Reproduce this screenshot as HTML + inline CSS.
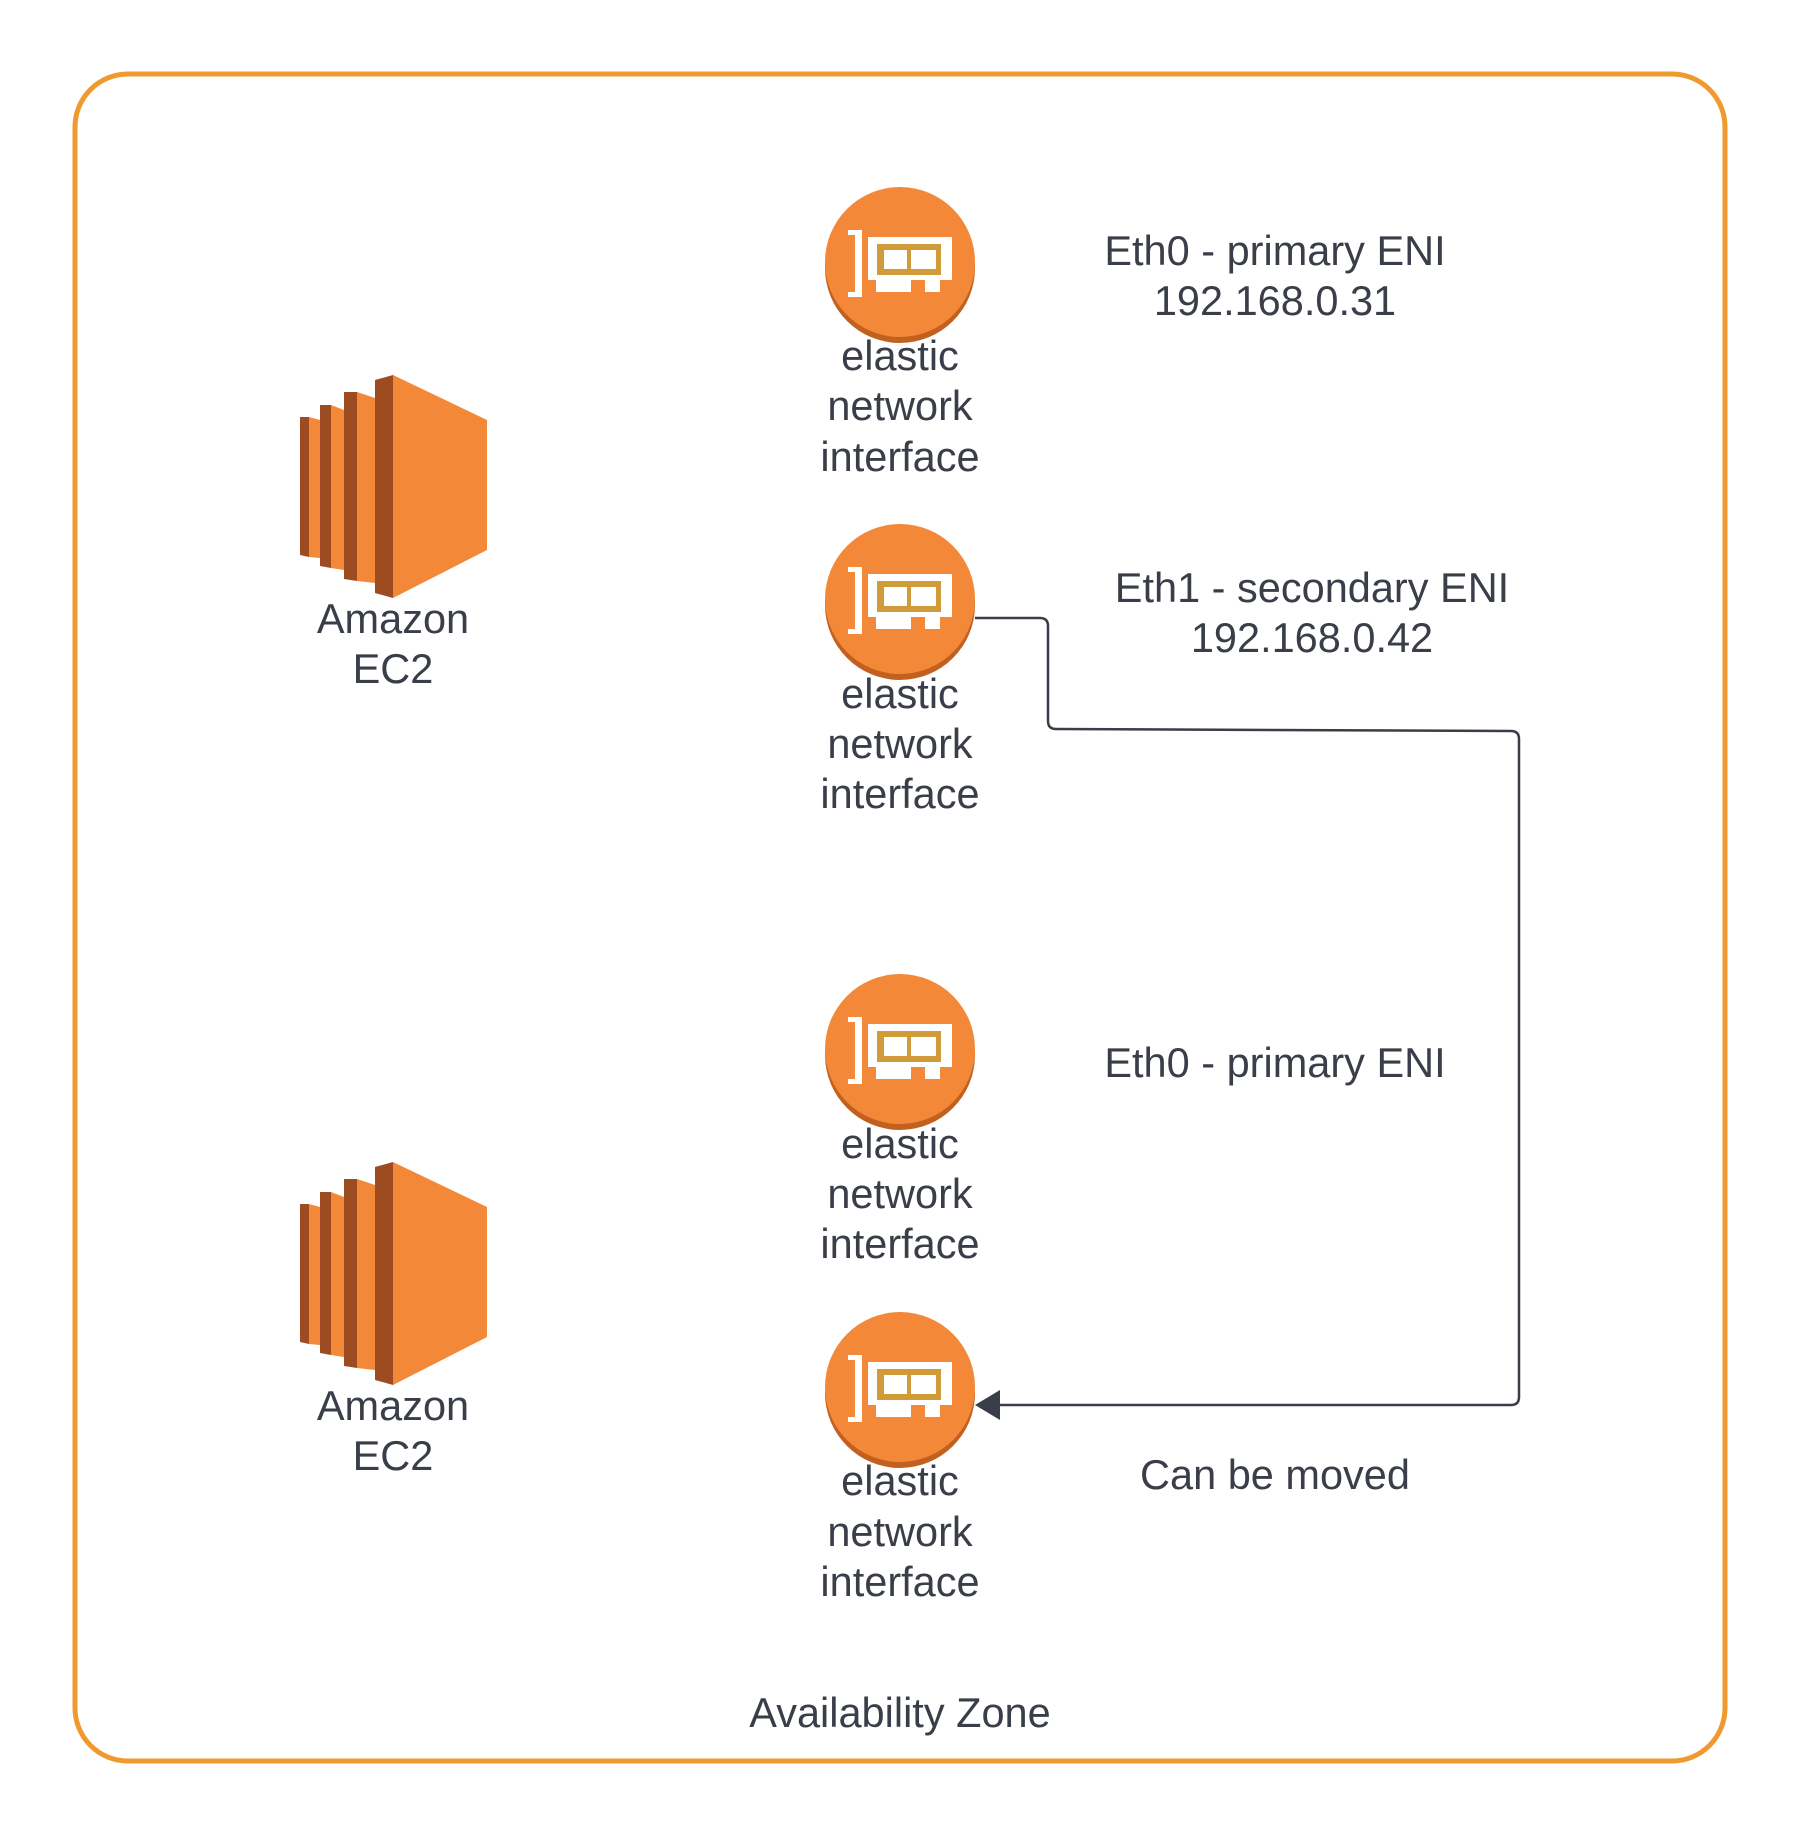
<!DOCTYPE html>
<html><head><meta charset="utf-8"><style>
html,body{margin:0;padding:0;background:#fff;}
svg{display:block;}
text{font-family:"Liberation Sans",sans-serif;font-size:41.5px;fill:#3a3e49;text-anchor:middle;dominant-baseline:middle;}
</style></head><body>
<svg width="1800" height="1838" viewBox="0 0 1800 1838" xmlns="http://www.w3.org/2000/svg">
<defs>
<g id="eni">
<circle cx="0" cy="6" r="75" fill="#c2611f"/>
<circle cx="0" cy="0" r="75" fill="#f38938"/>
<path d="M-52,-32 H-38 V35 H-52 V30 H-45 V-27 H-52 Z" fill="#fff"/>
<path d="M-32,-25 H52 V18 H40 V30 H25 V18 H11 V30 H-24 V18 H-32 Z" fill="#fff"/>
<rect x="-23" y="-18" width="64" height="31" fill="#d29b3a"/>
<rect x="-16" y="-12" width="23" height="19" fill="#fff"/>
<rect x="11" y="-12" width="25" height="19" fill="#fff"/>
</g>
<g id="ec2">
<polygon points="300,417 309,417 309,557 300,555" fill="#9d4c22"/>
<polygon points="309,417 320,420 320,558 309,557" fill="#f38938"/>
<polygon points="320,405 331,405 331,568 320,566" fill="#9d4c22"/>
<polygon points="331,405 344,410 344,570 331,568" fill="#f38938"/>
<polygon points="344,392 357,392 357,581 344,579" fill="#9d4c22"/>
<polygon points="357,392 375,398 375,583 357,581" fill="#f38938"/>
<polygon points="375,380 393,375 393,598 375,593" fill="#9d4c22"/>
<polygon points="393,375 487,420 487,550 393,598" fill="#f38938"/>
</g>
</defs>
<rect x="75" y="74" width="1650" height="1687" rx="53" ry="53" fill="#fff" stroke="#f0992f" stroke-width="5"/>
<use href="#ec2"/>
<use href="#ec2" transform="translate(0,787)"/>
<g transform="translate(0,4)">
<text x="393" y="618">Amazon</text>
<text x="393" y="668">EC2</text>
<text x="393" y="1405">Amazon</text>
<text x="393" y="1455">EC2</text>
<text x="900" y="355">elastic</text><text x="900" y="405">network</text><text x="900" y="456">interface</text>
<text x="900" y="693">elastic</text><text x="900" y="743">network</text><text x="900" y="793">interface</text>
<text x="900" y="1143">elastic</text><text x="900" y="1193">network</text><text x="900" y="1243">interface</text>
<text x="900" y="1480">elastic</text><text x="900" y="1531">network</text><text x="900" y="1581">interface</text>
<text x="1275" y="250">Eth0 - primary ENI</text>
<text x="1275" y="300">192.168.0.31</text>
<text x="1312" y="587">Eth1 - secondary ENI</text>
<text x="1312" y="637">192.168.0.42</text>
<text x="1275" y="1062">Eth0 - primary ENI</text>
<text x="1275" y="1474">Can be moved</text>
<text x="900" y="1712">Availability Zone</text>
</g>
<use href="#eni" transform="translate(900,262)"/>
<use href="#eni" transform="translate(900,599)"/>
<use href="#eni" transform="translate(900,1049)"/>
<use href="#eni" transform="translate(900,1387)"/>
<path d="M975,618 H1040 Q1048,618 1048,626 V721 Q1048,729 1056,729 L1511,731 Q1519,731 1519,739 V1397 Q1519,1405 1511,1405 H998" fill="none" stroke="#3a3e49" stroke-width="2.5"/>
<polygon points="975,1405 1000,1390 1000,1420" fill="#3a3e49"/>
</svg>
</body></html>
